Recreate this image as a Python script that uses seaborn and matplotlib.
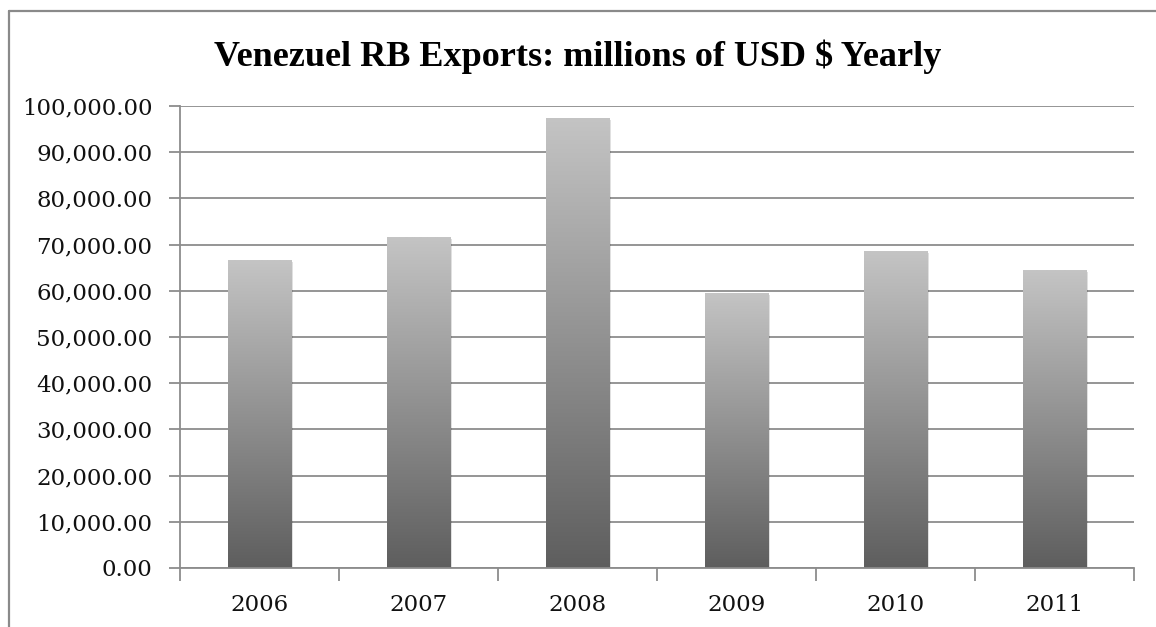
import numpy as np
import pandas as pd
import matplotlib
matplotlib.use("Agg")
import matplotlib.pyplot as plt
import matplotlib.patheffects as pe
from matplotlib.colors import LinearSegmentedColormap
from matplotlib.lines import Line2D
import seaborn as sns

# Yearly exports, millions of USD
years = ["2006", "2007", "2008", "2009", "2010", "2011"]
exports = [66600, 71600, 97450, 59600, 68600, 64500]
y_ticks = [0, 10000, 20000, 30000, 40000, 50000, 60000, 70000, 80000, 90000, 100000]
title = "Venezuel RB Exports: millions of USD $ Yearly"

df = pd.DataFrame({"year": years, "exports": exports})

sns.set_theme(style="white")
plt.rcParams["font.family"] = ["DejaVu Serif", "DejaVu Sans"]

GRID = "#8c8c8c"
W, H = 1156, 627
fig = plt.figure(figsize=(W / 100, H / 100), dpi=100)
fig.patch.set_facecolor("white")

# chart frame: top and left edges
fig.add_artist(Line2D([8.5 / W, 1], [1 - 10.5 / H, 1 - 10.5 / H],
                      transform=fig.transFigure, color="#8a8a8a", lw=1.6))
fig.add_artist(Line2D([8.5 / W, 8.5 / W], [0, 1 - 10.5 / H],
                      transform=fig.transFigure, color="#8a8a8a", lw=1.6))

ax = fig.add_axes([180 / W, 1 - 568 / H, (1134 - 180) / W, (568 - 106) / H])
ax.set_facecolor("none")

sns.barplot(data=df, x="year", y="exports", ax=ax, width=0.4,
            color="#909090", saturation=1, errorbar=None, zorder=3)

ax.set_ylim(0, 100000)
ax.set_xlim(-0.5, len(years) - 0.5)
ax.set_yticks(y_ticks)
ax.set_yticklabels([f"{v:,.2f}" for v in y_ticks])
ax.set_xlabel("")
ax.set_ylabel("")

# vertical gradient on each bar, light at the top, dark at the base
cmap = LinearSegmentedColormap.from_list("bar_grad", ["#5e5e5e", "#c4c4c4"])
grad = np.linspace(0, 1, 256).reshape(-1, 1)
for patch in ax.patches:
    x0, y0 = patch.get_x(), patch.get_y()
    w, h = patch.get_width(), patch.get_height()
    patch.set_path_effects([pe.SimplePatchShadow(offset=(1.5, -1.5), alpha=0.12,
                                                 shadow_rgbFace="#000000"),
                            pe.Normal()])
    patch.set_edgecolor("none")
    im = ax.imshow(grad, cmap=cmap, aspect="auto", origin="lower",
                   extent=(x0, x0 + w, y0, y0 + h), zorder=4,
                   interpolation="bilinear")
    im.set_clip_path(patch)

# gridlines
ax.yaxis.grid(True, color=GRID, lw=1.3, zorder=1)
ax.set_axisbelow(True)

for side in ("top", "right"):
    ax.spines[side].set_visible(False)
for side in ("left", "bottom"):
    ax.spines[side].set_color(GRID)
    ax.spines[side].set_linewidth(1.3)
    ax.spines[side].set_zorder(5)

# category boundary tick marks on the x axis
ax.set_xticks(np.arange(-0.5, len(years), 1.0), minor=True)
ax.tick_params(axis="x", which="major", length=0, pad=19, labelsize=16.5,
               labelcolor="#111111")
ax.tick_params(axis="x", which="minor", length=9, width=1.3, color=GRID,
               direction="out", bottom=True)
ax.tick_params(axis="y", which="major", length=8, width=1.3, color=GRID,
               direction="out", left=True, pad=12, labelsize=16.5,
               labelcolor="#111111")

fig.text(0.5, 1 - 57 / H, title, ha="center", va="center",
         fontsize=26, fontweight="bold", family=["Liberation Serif", "DejaVu Serif"],
         color="#000000")

fig.savefig("out.png", dpi=100, facecolor="white")
